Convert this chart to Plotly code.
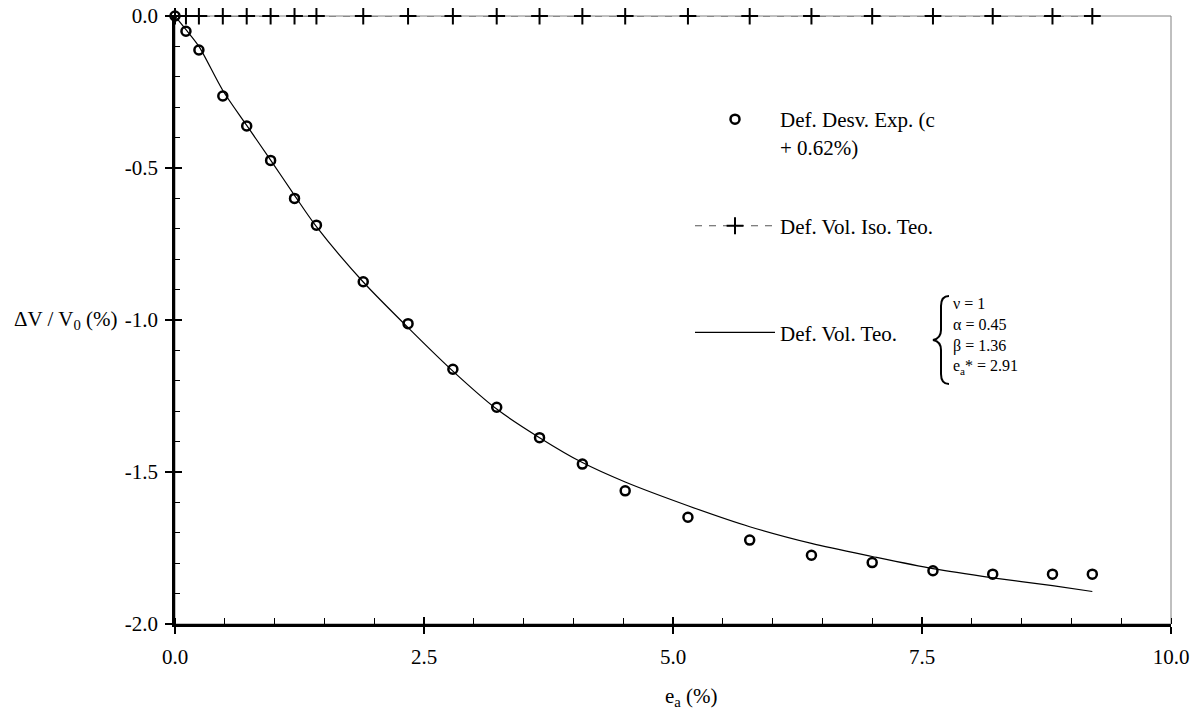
import plotly.graph_objects as go

# ---------------- data ----------------
ea_pct = [0.00, 0.11, 0.24, 0.48, 0.72, 0.96, 1.20, 1.42, 1.89, 2.34, 2.79,
          3.23, 3.66, 4.09, 4.52, 5.15, 5.77, 6.39, 7.00, 7.61, 8.21, 8.81, 9.21]
dv_exp = [0.000, -0.050, -0.112, -0.263, -0.362, -0.475, -0.600, -0.688,
          -0.874, -1.012, -1.162, -1.287, -1.387, -1.474, -1.562, -1.649,
          -1.724, -1.774, -1.798, -1.825, -1.836, -1.836, -1.836]
dv_iso = [0.0, 0.0, 0.0, 0.0, 0.0, 0.0, 0.0, 0.0, 0.0, 0.0, 0.0, 0.0,
          0.0, 0.0, 0.0, 0.0, 0.0, 0.0, 0.0, 0.0, 0.0, 0.0, 0.0]
dv_teo = [0.000, -0.045, -0.100, -0.245, -0.360, -0.474, -0.590, -0.693,
          -0.875, -1.025, -1.168, -1.293, -1.387, -1.469, -1.533, -1.611,
          -1.680, -1.735, -1.778, -1.818, -1.848, -1.874, -1.893]

x_tickvals = [0, 2.5, 5, 7.5, 10]
x_ticktext = ["0.0", "2.5", "5.0", "7.5", "10.0"]
y_tickvals = [0, -0.5, -1, -1.5, -2]
y_ticktext = ["0.0", "-0.5", "-1.0", "-1.5", "-2.0"]

series_names = ["Def. Desv. Exp. (c<br>+ 0.62%)", "Def. Vol. Iso. Teo.<br> ", "Def. Vol. Teo."]
param_lines = ["ν = 1", "α = 0.45", "β = 1.36", "e<sub>a</sub>* = 2.91"]
x_title = "e<sub>a</sub> (%)"
y_title = "ΔV / V<sub>0</sub> (%)"

# ---------------- layout geometry ----------------
# page body has an 8px margin; figure is sized so it fills the window
BODY = 8
W, H = 1202 - BODY, 713 - BODY
PL, PR, PT, PB = 175, 1171, 16, 624          # plot area in window pixels
ML, MT = PL - BODY, PT - BODY
MR, MB = 1202 - PR, 713 - PB
PW, PH = PR - PL, PB - PT
FONT = "Liberation Serif"


def pp(px, py):
    """window pixel position -> paper coordinates"""
    return (px - PL) / PW, (PB - py) / PH


fig = go.Figure()

fig.add_trace(go.Scatter(
    x=ea_pct, y=dv_exp, mode="markers", name=series_names[0],
    marker=dict(symbol="circle-open", size=9, color="black",
                line=dict(width=2.5, color="black")),
    legendgroup="a", cliponaxis=False))

fig.add_trace(go.Scatter(
    x=ea_pct, y=dv_iso, mode="lines+markers", name=series_names[1],
    line=dict(color="#555555", width=1, dash="7px,7px"),
    marker=dict(symbol="cross-thin-open", size=12, color="black",
                line=dict(width=2, color="black")),
    legendgroup="b", cliponaxis=False))

fig.add_trace(go.Scatter(
    x=ea_pct, y=dv_teo, mode="lines", name=series_names[2],
    line=dict(color="black", width=1.2, shape="spline", smoothing=0.8),
    legendgroup="c", cliponaxis=False))

# empty trace to anchor the overlay axes (inner halves of major ticks)
fig.add_trace(go.Scatter(x=[], y=[], xaxis="x2", yaxis="y2",
                         showlegend=False, hoverinfo="skip"))

tickfont = dict(family=FONT, size=21, color="black")

fig.update_layout(
    width=W, height=H,
    margin=dict(l=ML, r=MR, t=MT, b=MB, pad=0, autoexpand=False),
    paper_bgcolor="white", plot_bgcolor="white",
    font=dict(family=FONT, size=21, color="black"),
    showlegend=True,
    legend=dict(x=pp(690, 0)[0], y=pp(0, 99)[1], xanchor="left", yanchor="top",
                bgcolor="rgba(0,0,0,0)", borderwidth=0,
                font=dict(family=FONT, size=21, color="black"),
                itemwidth=80, valign="top", tracegroupgap=49,
                traceorder="grouped"),
    xaxis=dict(range=[0, 10], tickvals=x_tickvals, ticktext=x_ticktext,
               showgrid=False, zeroline=False, automargin=False,
               ticklabeloverflow="allow",
               showline=True, linewidth=2.5, linecolor="black",
               ticks="outside", ticklen=7, tickwidth=1.5, tickcolor="black",
               ticklabelstandoff=5, tickfont=tickfont,
               minor=dict(dtick=0.5, tick0=0, ticks="inside", ticklen=6,
                          tickwidth=1, tickcolor="black", showgrid=False)),
    yaxis=dict(range=[-2, 0], tickvals=y_tickvals, ticktext=y_ticktext,
               showgrid=False, zeroline=False, automargin=False,
               ticklabeloverflow="allow",
               showline=True, linewidth=2.5, linecolor="black",
               ticks="outside", ticklen=7, tickwidth=1.5, tickcolor="black",
               ticklabelstandoff=3, tickfont=tickfont,
               minor=dict(dtick=0.1, tick0=0, ticks="inside", ticklen=5,
                          tickwidth=1, tickcolor="black", showgrid=False)),
    xaxis2=dict(range=[0, 10], tickvals=x_tickvals, overlaying="x", anchor="y",
                side="bottom", showgrid=False, zeroline=False, showline=False,
                ticks="inside", ticklen=7, tickwidth=1.5, tickcolor="black",
                showticklabels=False, automargin=False),
    yaxis2=dict(range=[-2, 0], tickvals=y_tickvals, overlaying="y", anchor="x",
                side="left", showgrid=False, zeroline=False, showline=False,
                ticks="inside", ticklen=7, tickwidth=1.5, tickcolor="black",
                showticklabels=False, automargin=False),
)

# thin frame (top / right)
fig.add_shape(type="rect", xref="paper", yref="paper", x0=0, y0=0, x1=1, y1=1,
              line=dict(color="#808080", width=1), layer="below")

# axis titles
ax, ay = pp(120, 320)
fig.add_annotation(text=y_title, xref="paper", yref="paper", x=ax, y=ay,
                   xanchor="right", yanchor="middle", showarrow=False,
                   font=dict(family=FONT, size=21, color="black"))
tx, ty = pp(691, 697)
fig.add_annotation(text=x_title, xref="paper", yref="paper", x=tx, y=ty,
                   xanchor="center", yanchor="middle", showarrow=False,
                   font=dict(family=FONT, size=21, color="black"))

# parameter block with brace
bx, by = pp(951, 336)
fig.add_annotation(text="<br>".join(param_lines), xref="paper", yref="paper",
                   x=bx, y=by, xanchor="left", yanchor="middle", align="left",
                   showarrow=False, font=dict(family=FONT, size=16, color="black"))

brace_px = [(949, 296), (943, 296), (941, 300), (941, 306), (941, 330),
            (941, 336), (938, 339), (933, 340), (938, 341), (941, 344),
            (941, 350), (941, 374), (941, 380), (943, 384), (949, 384)]
bp = [pp(*p) for p in brace_px]
path = (f"M {bp[0][0]},{bp[0][1]} C {bp[1][0]},{bp[1][1]} {bp[2][0]},{bp[2][1]} {bp[3][0]},{bp[3][1]} "
        f"L {bp[4][0]},{bp[4][1]} C {bp[5][0]},{bp[5][1]} {bp[6][0]},{bp[6][1]} {bp[7][0]},{bp[7][1]} "
        f"C {bp[8][0]},{bp[8][1]} {bp[9][0]},{bp[9][1]} {bp[10][0]},{bp[10][1]} "
        f"L {bp[11][0]},{bp[11][1]} C {bp[12][0]},{bp[12][1]} {bp[13][0]},{bp[13][1]} {bp[14][0]},{bp[14][1]}")
fig.add_shape(type="path", xref="paper", yref="paper", path=path,
              line=dict(color="black", width=2))

fig.write_html("out.html")
